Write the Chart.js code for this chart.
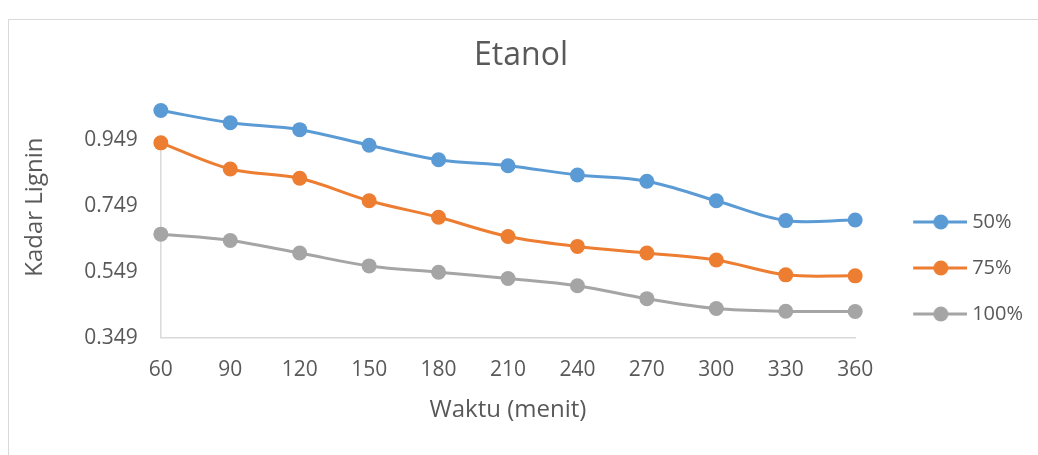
<!DOCTYPE html>
<html>
<head>
<meta charset="utf-8">
<script src="https://cdn.jsdelivr.net/npm/chart.js@4"></script>
<style>
  html, body { margin: 0; padding: 0; background: #fff; overflow: hidden; }
  #frame { position: absolute; left: 8px; top: 19px; width: 1100px; height: 500px; border: 1px solid #d9d9d9; }
  #wrap { position: absolute; left: 9px; top: 20px; width: 1029px; height: 435px; }
</style>
</head>
<body>
<div id="frame"></div>
<div id="wrap"><canvas id="lineChart"></canvas></div>
<script>
(() => {
  'use strict'

  // data
  const categories = ['60', '90', '120', '150', '180', '210', '240', '270', '300', '330', '360'];
  const series50 = [1.037, 1.000, 0.979, 0.932, 0.888, 0.870, 0.842, 0.823, 0.764, 0.704, 0.706];
  const series75 = [0.939, 0.860, 0.832, 0.764, 0.714, 0.656, 0.626, 0.606, 0.585, 0.540, 0.537];
  const series100 = [0.663, 0.644, 0.606, 0.567, 0.548, 0.529, 0.507, 0.468, 0.438, 0.430, 0.429];
  const seriesNames = ['50%', '75%', '100%'];
  const yTicks = [0.349, 0.549, 0.749, 0.949];

  const colors = ['#5B9BD5', '#ED7D31', '#A5A5A5'];
  const textColor = '#595959';
  const axisColor = '#d9d9d9';
  const font = '"Open Sans", sans-serif';

  // legend marker: a short line with a dot, drawn off to the right of its box
  const legendMarker = (color) => {
    const c = document.createElement('canvas');
    c.width = 91;
    c.height = 18;
    const g = c.getContext('2d');
    g.strokeStyle = color;
    g.lineWidth = 3;
    g.beginPath();
    g.moveTo(37, 9);
    g.lineTo(91, 9);
    g.stroke();
    g.fillStyle = color;
    g.beginPath();
    g.arc(64.7, 9, 7.5, 0, Math.PI * 2);
    g.fill();
    return c;
  };

  // y axis line only runs up to the last tick
  const yAxisLine = {
    id: 'yAxisLine',
    beforeDatasetsDraw(chart) {
      const { ctx, chartArea, scales } = chart;
      const top = scales.y.getPixelForValue(yTicks[yTicks.length - 1]);
      ctx.save();
      ctx.strokeStyle = axisColor;
      ctx.lineWidth = 1.5;
      ctx.beginPath();
      ctx.moveTo(chartArea.left, top);
      ctx.lineTo(chartArea.left, chartArea.bottom);
      ctx.stroke();
      ctx.restore();
    }
  };

  const makeSet = (label, data, color) => ({
    label: label,
    data: data,
    borderColor: color,
    backgroundColor: color,
    borderWidth: 3,
    pointRadius: 7.5,
    pointHoverRadius: 7.5,
    pointBorderWidth: 0,
    tension: 0.35,
    clip: false
  });

  const config = {
    type: 'line',
    data: {
      labels: categories,
      datasets: [
        makeSet(seriesNames[0], series50, colors[0]),
        makeSet(seriesNames[1], series75, colors[1]),
        makeSet(seriesNames[2], series100, colors[2])
      ]
    },
    options: {
      responsive: true,
      maintainAspectRatio: false,
      animation: false,
      layout: { padding: { left: 0, right: 5, top: 0, bottom: 35.8 } },
      plugins: {
        title: {
          display: true,
          text: 'Etanol',
          color: textColor,
          font: { family: font, size: 32, weight: 'normal' },
          padding: { top: 16.5, bottom: 1.5 }
        },
        legend: {
          position: 'right',
          align: 'start',
          title: { display: true, text: '', font: { size: 12 }, padding: { top: 151.6, bottom: 0 } },
          labels: {
            usePointStyle: true,
            pointStyleWidth: 81,
            padding: 26,
            color: textColor,
            font: { family: font, size: 20 },
            generateLabels: (chart) => chart.data.datasets.map((ds, i) => ({
              text: ds.label,
              pointStyle: legendMarker(colors[i]),
              fillStyle: colors[i],
              strokeStyle: colors[i],
              lineWidth: 0,
              fontColor: textColor,
              hidden: false,
              datasetIndex: i
            }))
          }
        },
        tooltip: { enabled: false }
      },
      scales: {
        x: {
          grid: { display: false, drawTicks: false },
          border: { display: true, color: axisColor, width: 1.5 },
          ticks: { color: textColor, padding: 19, font: { family: font, size: 21 } },
          title: {
            display: true,
            text: 'Waktu (menit)',
            color: textColor,
            font: { family: font, size: 24, lineHeight: 0.75 },
            padding: 0
          }
        },
        y: {
          min: 0.349,
          max: 1.14,
          grid: { display: false, drawTicks: false },
          border: { display: false },
          afterBuildTicks: (axis) => { axis.ticks = yTicks.map(v => ({ value: v })); },
          ticks: {
            color: textColor,
            padding: 23,
            font: { family: font, size: 21 },
            callback: (v) => Number(v).toFixed(3)
          },
          title: {
            display: true,
            text: 'Kadar Lignin',
            color: textColor,
            font: { family: font, size: 24 },
            padding: { top: 11.6, bottom: 11.9 }
          }
        }
      }
    },
    plugins: [yAxisLine]
  };

  new Chart(document.getElementById('lineChart'), config);
})()
</script>
</body>
</html>
